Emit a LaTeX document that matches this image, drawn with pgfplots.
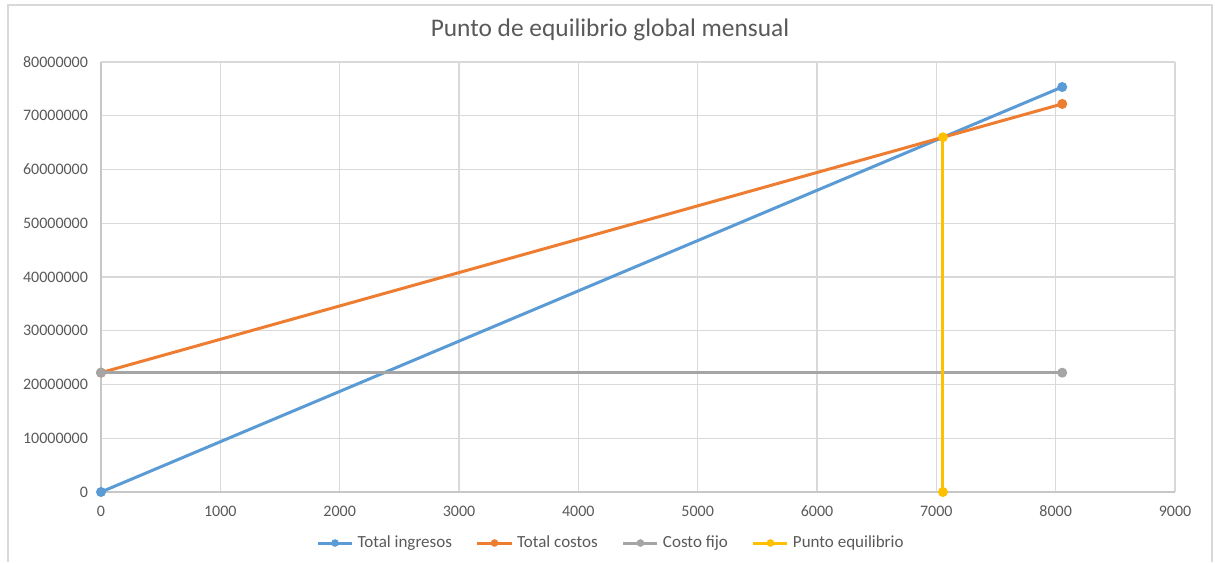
\documentclass[border=0pt]{standalone}
\usepackage{pgfplots}
\pgfplotsset{compat=1.18}
\usepackage{fontspec}
\setmainfont{Carlito}
\definecolor{cblue}{HTML}{5B9BD5}
\definecolor{corange}{HTML}{ED7D31}
\definecolor{cgray}{HTML}{A5A5A5}
\definecolor{cyellow}{HTML}{FFC000}
\definecolor{cgrid}{HTML}{D9D9D9}
\definecolor{ctext}{HTML}{595959}
\begin{document}
\begin{tikzpicture}
\path (0,0) rectangle (607.5pt,281pt);
\draw[cgrid, line width=0.8pt] (4pt,0) -- (4pt,278.5pt) -- (606pt,278.5pt) -- (606pt,0);
\node[text=ctext, font=\fontsize{12.7}{15}\selectfont] at (305pt,266pt) {Punto de equilibrio global mensual};
\begin{axis}[
  at={(50.5pt,35pt)}, anchor=south west,
  scale only axis, width=537pt, height=215pt,
  xmin=0, xmax=9000, ymin=0, ymax=80000000,
  xtick={0,1000,...,9000},
  ytick={0,10000000,...,80000000},
  scaled ticks=false,
  /pgf/number format/assume math mode=true,
  xticklabel={\pgfmathprintnumber[fixed,1000 sep={}]{\tick}},
  yticklabel={\pgfmathprintnumber[fixed,1000 sep={},precision=0]{\tick}},
  tick label style={text=ctext, font=\fontsize{8}{9}\selectfont},
  major tick length=0pt,
  grid=major, major grid style={cgrid, line width=0.6pt},
  axis line style={cgrid!80!gray, line width=0.7pt},
  axis x line*=bottom, axis y line*=left,
  separate axis lines,
  xticklabel style={yshift=-3.5pt},
  yticklabel style={xshift=-3pt},
  legend columns=4,
  legend style={at={(0.4758,-0.1186)}, anchor=center, draw=none, fill=none,
    font=\fontsize{8.5}{10}\selectfont, text=ctext,
    /tikz/every even column/.append style={column sep=10pt}},
  legend image post style={mark size=1.1pt},
  legend cell align=left,
  mark size=1.7pt,
  clip=false,
]
\addplot[cblue, line width=1.5pt, mark=*] coordinates {(0,0) (8055,75350000)};
\addlegendentry{Total ingresos}
\addplot[corange, line width=1.5pt, mark=*] coordinates {(0,22200000) (8055,72200000)};
\addlegendentry{Total costos}
\addplot[cgray, line width=1.5pt, mark=*] coordinates {(0,22200000) (8055,22200000)};
\addlegendentry{Costo fijo}
\addplot[cyellow, line width=1.5pt, mark=*] coordinates {(7055,66000000) (7055,0)};
\addlegendentry{Punto equilibrio}
\end{axis}
\end{tikzpicture}
\end{document}
